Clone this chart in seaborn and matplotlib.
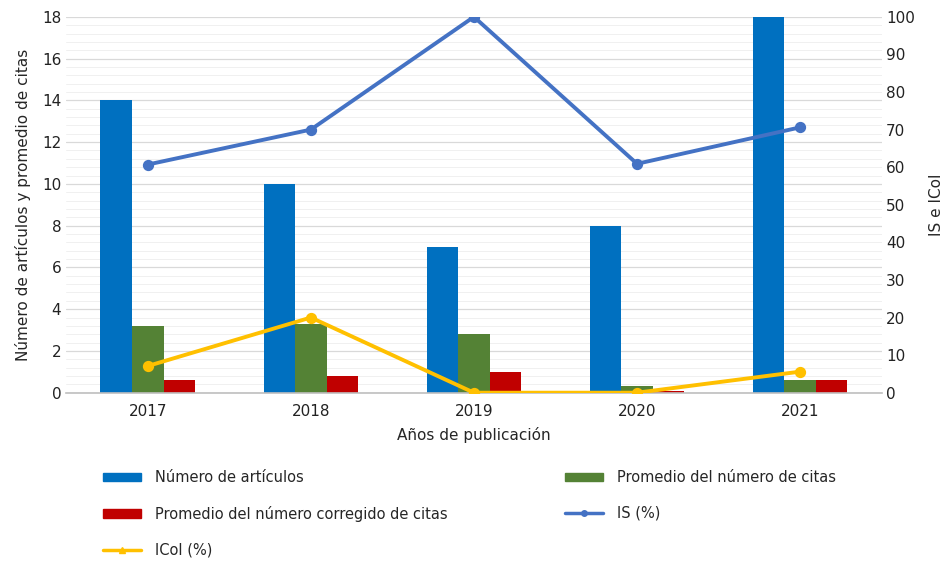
"""Artículos, citas e índices por año de publicación"""

import matplotlib
matplotlib.use("Agg")
import matplotlib.pyplot as plt
from matplotlib.lines import Line2D
from matplotlib.patches import Patch
from matplotlib.ticker import MultipleLocator
import seaborn as sns
import pandas as pd

years = ["2017", "2018", "2019", "2020", "2021"]
n_articulos = [14, 10, 7, 8, 18]
promedio_citas = [3.2, 3.3, 2.8, 0.3, 0.6]
promedio_corregido = [0.6, 0.8, 1.0, 0.1, 0.6]
is_pct = [60.7, 70.0, 100.0, 60.9, 70.6]
icoi_pct = [7.1, 20.0, 0.0, 0.0, 5.6]

bar_names = [
    "Número de artículos",
    "Promedio del número de citas",
    "Promedio del número corregido de citas",
]
bar_colors = ["#0070C0", "#548235", "#C00000"]
is_color = "#4472C4"
icoi_color = "#FFC000"

sns.set_style("white")
plt.rcParams["font.family"] = ["DejaVu Sans"]

df = pd.DataFrame(
    {
        "year": years * 3,
        "value": n_articulos + promedio_citas + promedio_corregido,
        "serie": [bar_names[0]] * 5 + [bar_names[1]] * 5 + [bar_names[2]] * 5,
    }
)

fig = plt.figure(figsize=(9.46, 5.61), dpi=100)
ax = fig.add_axes([0.070, 0.300, 0.862, 0.670])

sns.barplot(
    data=df, x="year", y="value", hue="serie", palette=bar_colors,
    width=0.58, saturation=1, linewidth=0, ax=ax, legend=False,
)
ax.set_ylim(0, 18)
ax.yaxis.set_major_locator(MultipleLocator(2))
ax.yaxis.set_minor_locator(MultipleLocator(0.4))
ax.grid(axis="y", which="major", color="#d9d9d9", linewidth=0.9)
ax.grid(axis="y", which="minor", color="#f0f0f0", linewidth=0.7)
ax.set_axisbelow(True)
for s in ["top", "right", "left"]:
    ax.spines[s].set_visible(False)
ax.spines["bottom"].set_color("#bfbfbf")
ax.spines["bottom"].set_linewidth(1.2)
ax.tick_params(axis="both", which="both", length=0, labelsize=11, labelcolor="#222222")
ax.tick_params(axis="x", pad=8)
ax.set_xlabel("Años de publicación", fontsize=11, labelpad=6)
ax.set_ylabel("Número de artículos y promedio de citas", fontsize=11, labelpad=8)

ax2 = ax.twinx()
sns.pointplot(
    x=years, y=is_pct, ax=ax2, color=is_color, markers="o",
    linewidth=2.8, markersize=6,
)
sns.pointplot(
    x=years, y=icoi_pct, ax=ax2, color=icoi_color, markers="o",
    linewidth=2.8, markersize=6,
)
ax2.set_ylim(0, 100)
ax2.set_yticks(range(0, 101, 10))
ax2.set_xlim(-0.5, 4.5)
ax.set_xlim(-0.5, 4.5)
for s in ["top", "right", "left", "bottom"]:
    ax2.spines[s].set_visible(False)
ax2.tick_params(axis="y", length=0, labelsize=11, labelcolor="#222222", pad=3)
ax2.set_ylabel("IS e ICoI", fontsize=11, labelpad=10)

handles = [
    Patch(color=bar_colors[0], label=bar_names[0]),
    Patch(color=bar_colors[2], label=bar_names[2]),
    Line2D([0], [0], color=icoi_color, lw=2.5, marker="^", markersize=5, label="ICoI (%)"),
    Patch(color=bar_colors[1], label=bar_names[1]),
    Line2D([0], [0], color=is_color, lw=2.5, marker="o", markersize=4, label="IS (%)"),
]
fig.legend(
    handles=handles, ncol=2, loc="upper left",
    bbox_to_anchor=(0.095, 0.185), frameon=False, fontsize=10.5,
    handlelength=2.6, handleheight=0.5, handletextpad=1.0,
    columnspacing=8.0, labelspacing=1.4,
)

fig.savefig("out.png", dpi=100)
